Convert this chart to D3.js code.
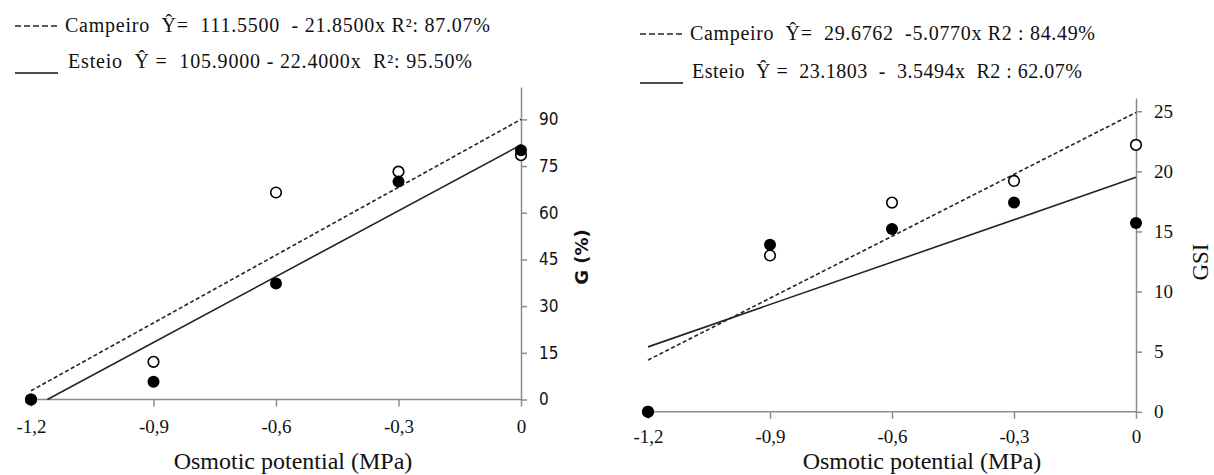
<!DOCTYPE html>
<html>
<head>
<meta charset="utf-8">
<script src="https://d3js.org/d3.v7.min.js"></script>
</head>
<body style="margin:0">
<div id="vis"></div>
<script>

// data (x = osmotic potential, MPa)
var potential = [-1.2, -0.9, -0.6, -0.3, 0];
var xTicks = [-1.2, -0.9, -0.6, -0.3, 0];

var gCampeiro = [0, 12.1, 66.5, 73.2, 78.5];
var gEsteio = [0, 5.7, 37.3, 70.0, 80.1];
var gTicks = [0, 15, 30, 45, 60, 75, 90];

var gsiCampeiro = [0, 13.0, 17.4, 19.2, 22.2];
var gsiEsteio = [0, 13.9, 15.2, 17.4, 15.7];
var gsiTicks = [0, 5, 10, 15, 20, 25];

// regression line end points
var gFitCampeiroX = [-1.2, 0], gFitCampeiroY = [2.8, 90.0];
var gFitEsteioX = [-1.16, 0], gFitEsteioY = [0, 81.8];
var gsiFitCampeiroX = [-1.2, 0], gsiFitCampeiroY = [4.3, 24.9];
var gsiFitEsteioX = [-1.2, 0], gsiFitEsteioY = [5.4, 19.5];

var gLegend = ['Campeiro  \u0176=  111.5500  - 21.8500x R\u00b2: 87.07%',
               'Esteio  \u0176 =  105.9000 - 22.4000x  R\u00b2: 95.50%'];
var gsiLegend = ['Campeiro  \u0176=  29.6762  -5.0770x R2 : 84.49%',
                 'Esteio  \u0176 =  23.1803  -  3.5494x  R2 : 62.07%'];

var svg = d3.select('#vis').append('svg')
    .attr('width', 1214)
    .attr('height', 475);

function fmt(d) {
    return d === 0 ? '0' : d3.format('.1f')(d).replace('.', ',').replace('\u2212', '-');
}

function setFont(sel, fam, size, weight) {
    sel.attr('font-family', fam).style('font-family', "'" + fam + "'")
        .style('font-size', size).style('font-weight', weight || 'normal')
        .attr('fill', '#111');
}

function drawPanel(p) {
    var x = d3.scaleLinear().domain([-1.2, 0]).range(p.xRange);
    var y = d3.scaleLinear().domain(p.yDomain).range(p.yRange);
    var g = svg.append('g');

    // x axis
    var xa = g.append('g')
        .attr('transform', 'translate(0,' + y(0) + ')')
        .call(d3.axisBottom(x).tickValues(xTicks).tickFormat(fmt)
            .tickSize(7).tickSizeOuter(0).tickPadding(p.xPad));
    xa.attr('font-family', 'Liberation Serif');
    xa.select('.domain').attr('d', 'M' + x(-1.2) + ',0H' + x(0));
    xa.selectAll('path, line').attr('stroke', '#8c8c8c').attr('stroke-width', 1.5);
    setFont(xa.selectAll('text'), 'Liberation Serif', '19px');

    // y axis on the right
    var ya = g.append('g')
        .attr('transform', 'translate(' + x(0) + ',0)')
        .call(d3.axisRight(y).tickValues(p.yTicks)
            .tickSize(6).tickSizeOuter(0).tickPadding(12));
    ya.attr('font-family', p.yFont);
    ya.selectAll('path, line').attr('stroke', '#8c8c8c').attr('stroke-width', 1.5);
    setFont(ya.selectAll('text'), p.yFont, p.ySize);

    // fitted lines
    var line = d3.line().x(function(d) { return x(d[0]); }).y(function(d) { return y(d[1]); });
    g.append('path').datum(d3.zip(p.fitCx, p.fitCy)).attr('d', line)
        .attr('fill', 'none').attr('stroke', '#222').attr('stroke-width', 1.6)
        .attr('stroke-dasharray', '4,2.5');
    g.append('path').datum(d3.zip(p.fitEx, p.fitEy)).attr('d', line)
        .attr('fill', 'none').attr('stroke', '#222').attr('stroke-width', 1.6);

    // points: open = Campeiro, filled = Esteio
    g.selectAll('.open').data(d3.zip(potential, p.campeiro)).enter().append('circle')
        .attr('cx', function(d) { return x(d[0]); })
        .attr('cy', function(d) { return y(d[1]); })
        .attr('r', 5.3).attr('fill', '#fff').attr('stroke', '#000').attr('stroke-width', 1.6);
    g.selectAll('.filled').data(d3.zip(potential, p.esteio)).enter().append('circle')
        .attr('cx', function(d) { return x(d[0]); })
        .attr('cy', function(d) { return y(d[1]); })
        .attr('r', 6).attr('fill', '#000');

    // axis titles
    var xt = g.append('text')
        .attr('x', p.xTitle[0]).attr('y', p.xTitle[1])
        .attr('text-anchor', 'middle')
        .text('Osmotic potential (MPa)');
    setFont(xt, 'Liberation Serif', '24px');
    var yt = g.append('text')
        .attr('transform', 'translate(' + p.yTitle[0] + ',' + p.yTitle[1] + ') rotate(-90)')
        .attr('text-anchor', 'middle').attr('dy', '0.35em')
        .text(p.yLabel);
    setFont(yt, p.yTitleFont, p.yTitleSize, p.yTitleWeight);

    // legend
    var lg = svg.append('g');
    lg.append('line').attr('x1', p.leg[0]).attr('x2', p.leg[0] + 44)
        .attr('y1', p.leg[1] - 6).attr('y2', p.leg[1] - 6)
        .attr('stroke', '#222').attr('stroke-width', 1.5).attr('stroke-dasharray', '6,3');
    lg.append('line').attr('x1', p.leg[0]).attr('x2', p.leg[0] + 43)
        .attr('y1', p.leg[3] + 5).attr('y2', p.leg[3] + 5)
        .attr('stroke', '#111').attr('stroke-width', 1.6);
    var l1 = lg.append('text').attr('xml:space', 'preserve')
        .attr('x', p.leg[0] + 50).attr('y', p.leg[1])
        .attr('textLength', p.legLen[0]).attr('lengthAdjust', 'spacing')
        .text(p.legend[0]);
    var l2 = lg.append('text').attr('xml:space', 'preserve')
        .attr('x', p.leg[2]).attr('y', p.leg[3])
        .attr('textLength', p.legLen[1]).attr('lengthAdjust', 'spacing')
        .text(p.legend[1]);
    setFont(l1, 'Liberation Serif', '20px');
    setFont(l2, 'Liberation Serif', '20px');
}

drawPanel({
    xRange: [31, 521], yDomain: [0, 100.4], yRange: [399.5, 87],
    yTicks: gTicks, yFont: 'DejaVu Sans Condensed', ySize: '17px',
    xPad: 13,
    campeiro: gCampeiro, esteio: gEsteio,
    fitCx: gFitCampeiroX, fitCy: gFitCampeiroY, fitEx: gFitEsteioX, fitEy: gFitEsteioY,
    xTitle: [293, 469], yTitle: [582, 257], yLabel: 'G (%)',
    yTitleFont: 'DejaVu Sans', yTitleSize: '18px', yTitleWeight: 'bold',
    leg: [15, 32, 68, 68], legLen: [425, 404], legend: gLegend
});

drawPanel({
    xRange: [648, 1136], yDomain: [0, 26.1], yRange: [411.8, 98],
    yTicks: gsiTicks, yFont: 'Liberation Serif', ySize: '19px',
    xPad: 11,
    campeiro: gsiCampeiro, esteio: gsiEsteio,
    fitCx: gsiFitCampeiroX, fitCy: gsiFitCampeiroY, fitEx: gsiFitEsteioX, fitEy: gsiFitEsteioY,
    xTitle: [922, 469], yTitle: [1200, 262], yLabel: 'GSI',
    yTitleFont: 'Liberation Serif', yTitleSize: '23px', yTitleWeight: 'normal',
    leg: [640, 40, 692, 78], legLen: [405, 390], legend: gsiLegend
});

</script>
</body>
</html>
